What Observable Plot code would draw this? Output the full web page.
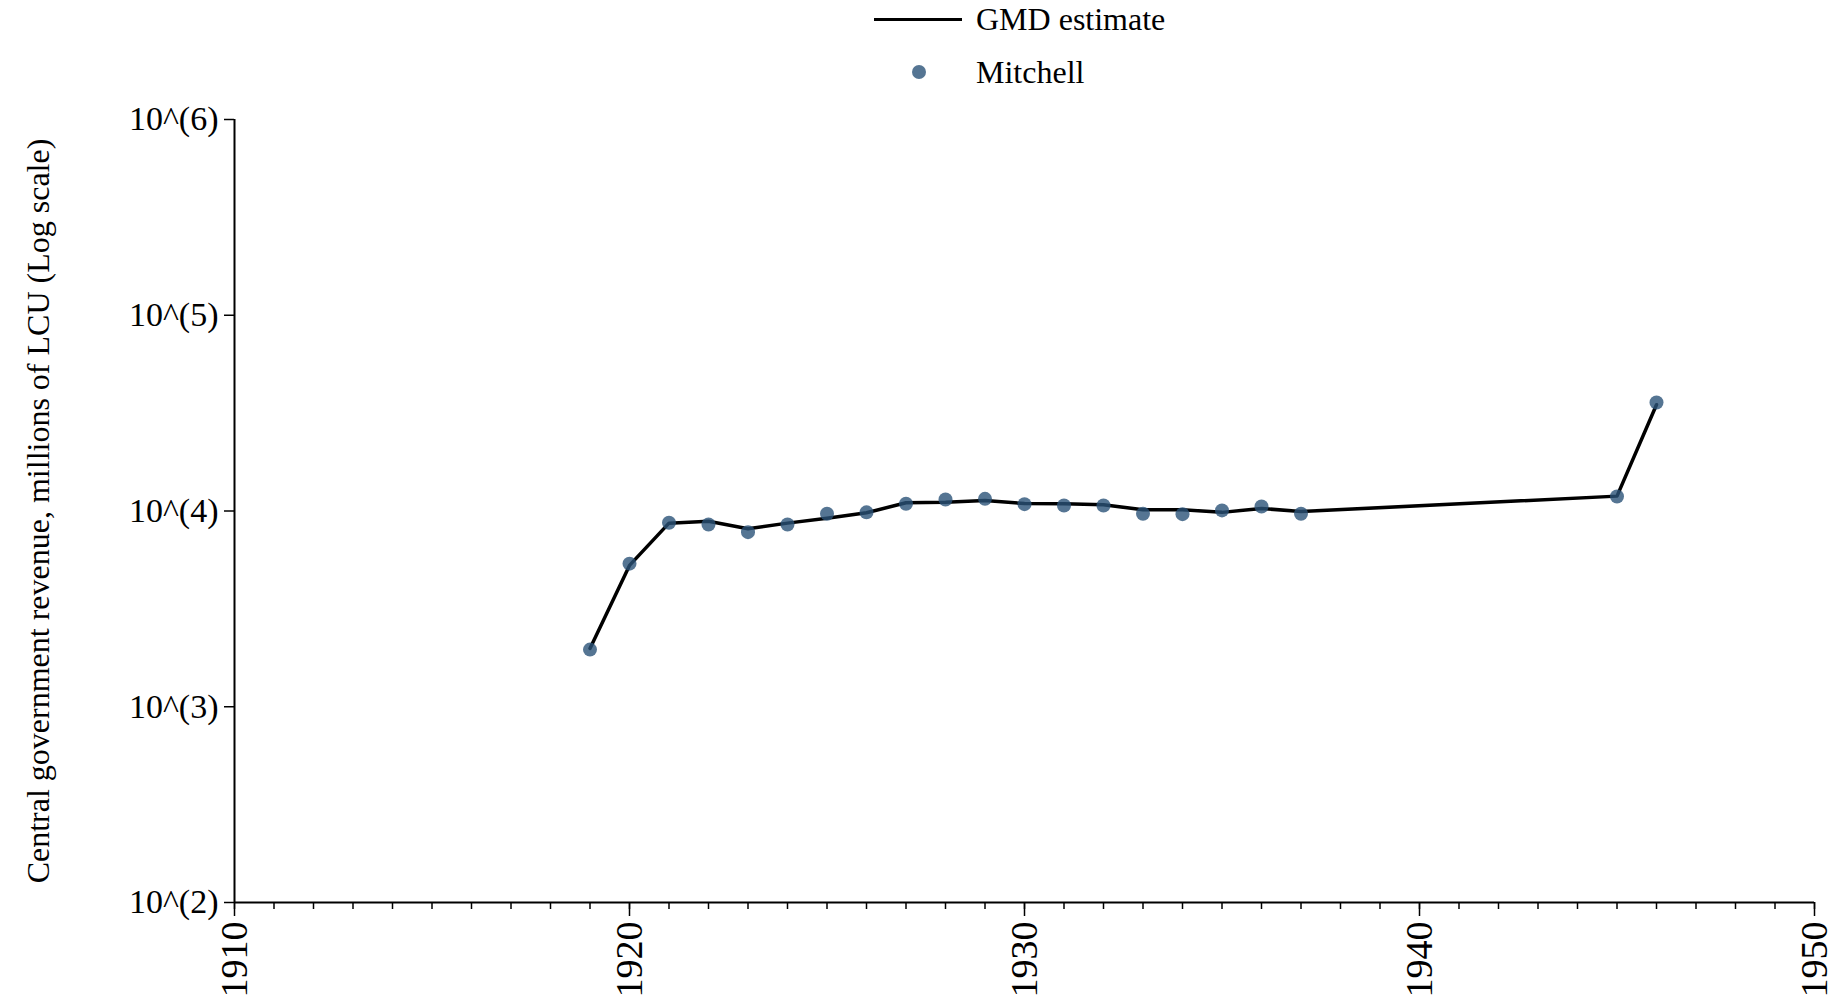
<!DOCTYPE html>
<html>
<head>
<meta charset="utf-8">
<script src="https://cdn.jsdelivr.net/npm/d3@7"></script>
<script src="https://cdn.jsdelivr.net/npm/@observablehq/plot@0.6"></script>
<style>
  body { margin: 0; background: #fff; font-family: "Liberation Serif", "Times New Roman", serif; }
  #legend { position: relative; width: 1840px; height: 95px; }
  #legend .line { position: absolute; left: 874px; top: 18px; width: 88px; height: 3px; background: #000; }
  #legend .dot { position: absolute; left: 912px; top: 65px; width: 14px; height: 14px; border-radius: 50%; background: #2b5278; opacity: 0.8; }
  #legend .lab { position: absolute; left: 976px; font-size: 32px; line-height: 32px; color: #000; white-space: nowrap; }
</style>
</head>
<body>
<div id="legend">
  <div class="line"></div><div class="lab" id="l1" style="top:3px"></div>
  <div class="dot"></div><div class="lab" id="l2" style="top:56px"></div>
</div>
<div id="chart"></div>
<script>
// ---- data ----
const seriesNames = ["GMD estimate", "Mitchell"];
const years = [1919, 1920, 1921, 1922, 1923, 1924, 1925, 1926, 1927, 1928, 1929,
               1930, 1931, 1932, 1933, 1934, 1935, 1936, 1937, 1945, 1946];
const gmdValues = [1986, 5272, 8670, 8872, 8110, 8670, 9183, 9795, 11015, 11092, 11324,
                   10914, 10889, 10765, 10139, 10139, 9840, 10304, 9931, 11912, 34914];
const mitchellValues = [1959, 5383, 8710, 8531, 7798, 8531, 9683, 9840, 10889, 11455, 11535,
                        10839, 10666, 10666, 9683, 9638, 10069, 10544, 9683, 11858, 35810];
const xTicks = [1910, 1920, 1930, 1940, 1950];
const xMinorTicks = d3.range(1910, 1951);
const yTicks = [1e2, 1e3, 1e4, 1e5, 1e6];
const yTickLabels = ["10^(2)", "10^(3)", "10^(4)", "10^(5)", "10^(6)"];
const yTitle = "Central government revenue, millions of LCU (Log scale)";

const gmd = years.map((y, i) => ({year: y, value: gmdValues[i]}));
const mitchell = years.map((y, i) => ({year: y, value: mitchellValues[i]}));

document.getElementById("l1").textContent = seriesNames[0];
document.getElementById("l2").textContent = seriesNames[1];

const chart = Plot.plot({
  width: 1840,
  height: 913,
  marginTop: 24,
  marginBottom: 106,
  marginLeft: 234,
  marginRight: 26,
  style: { fontFamily: "Liberation Serif, Times New Roman, serif", fontSize: "34px", color: "#000", background: "#fff" },
  x: { domain: [1910, 1950], label: null },
  y: { type: "log", domain: [100, 1e6], label: null },
  marks: [
    Plot.axisX({ ticks: xMinorTicks, tickSize: 7, strokeWidth: 1.5, tickFormat: () => "", label: null }),
    Plot.axisX({ ticks: xTicks, tickSize: 14, strokeWidth: 1.5, tickRotate: -90, tickPadding: 5, fontSize: 38,
                 tickFormat: d => String(d), label: null }),
    Plot.axisY({ ticks: yTicks, tickSize: 10, strokeWidth: 1.5, tickPadding: 6, label: null,
                 tickFormat: d => yTickLabels[yTicks.indexOf(d)] }),
    Plot.ruleX([1910], { strokeWidth: 2 }),
    Plot.ruleY([100], { strokeWidth: 2 }),
    Plot.line(gmd, { x: "year", y: "value", stroke: "#000", strokeWidth: 3.5 }),
    Plot.dot(mitchell, { x: "year", y: "value", r: 7, fill: "#2b5278", fillOpacity: 0.8 }),
    Plot.text([yTitle], { text: d => d, frameAnchor: "left", dx: -196, rotate: -90, fontSize: 32,
                          textAnchor: "middle", lineAnchor: "middle" })
  ]
});
document.getElementById("chart").appendChild(chart);
</script>
</body>
</html>
